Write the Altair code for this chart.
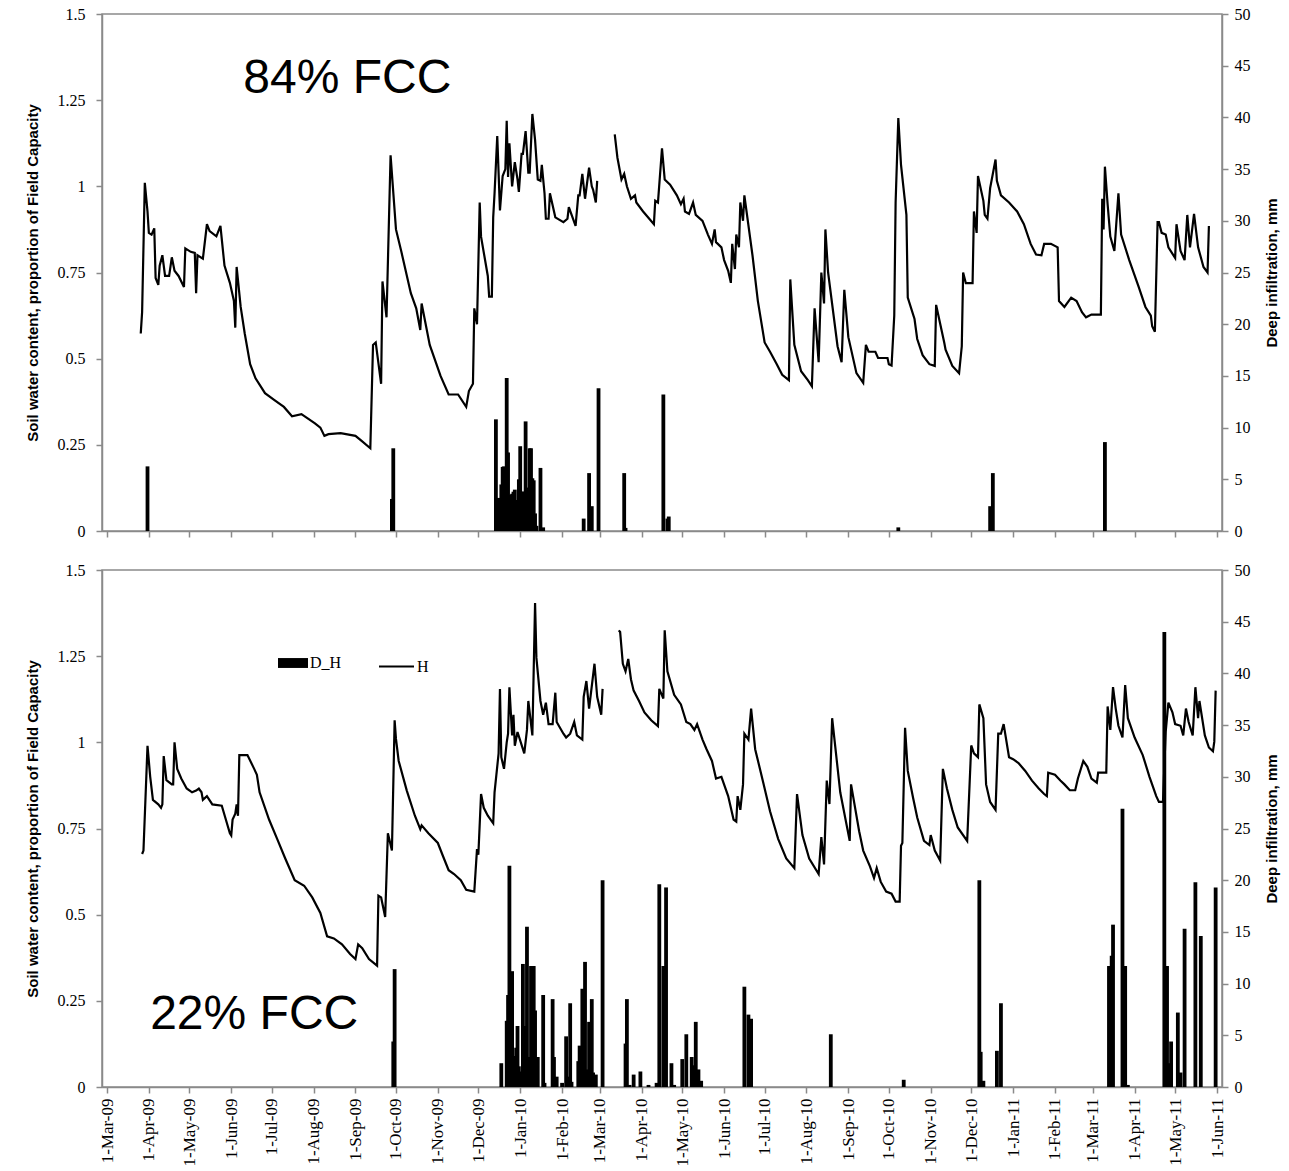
import altair as alt
import pandas as pd

# ---------------- data ----------------
month_ticks = ["2009-03-01", "2009-04-01", "2009-05-01", "2009-06-01", "2009-07-01", "2009-08-01",
               "2009-09-01", "2009-10-01", "2009-11-01", "2009-12-01", "2010-01-01", "2010-02-01",
               "2010-03-01", "2010-04-01", "2010-05-01", "2010-06-01", "2010-07-01", "2010-08-01",
               "2010-09-01", "2010-10-01", "2010-11-01", "2010-12-01", "2011-01-01", "2011-02-01",
               "2011-03-01", "2011-04-01", "2011-05-01", "2011-06-01"]
left_ticks = [0, 0.25, 0.5, 0.75, 1, 1.25, 1.5]
right_ticks = [0, 5, 10, 15, 20, 25, 30, 35, 40, 45, 50]

# ---- top panel (84% FCC): soil water content H, segment before the March-2010 gap
top_h_a = [
    ("2009-03-26", 0.573), ("2009-03-27", 0.635), ("2009-03-29", 1.01), ("2009-03-31", 0.927),
    ("2009-04-01", 0.865), ("2009-04-03", 0.86), ("2009-04-05", 0.878), ("2009-04-06", 0.734),
    ("2009-04-08", 0.714), ("2009-04-09", 0.77), ("2009-04-11", 0.80), ("2009-04-13", 0.74),
    ("2009-04-16", 0.74), ("2009-04-18", 0.794), ("2009-04-20", 0.755), ("2009-04-23", 0.74),
    ("2009-04-27", 0.708), ("2009-04-28", 0.82), ("2009-05-02", 0.81), ("2009-05-05", 0.807),
    ("2009-05-06", 0.69), ("2009-05-07", 0.80), ("2009-05-11", 0.79), ("2009-05-14", 0.89),
    ("2009-05-16", 0.87), ("2009-05-21", 0.855), ("2009-05-24", 0.885), ("2009-05-27", 0.77),
    ("2009-05-31", 0.72), ("2009-06-03", 0.667), ("2009-06-04", 0.59), ("2009-06-05", 0.766),
    ("2009-06-08", 0.65), ("2009-06-11", 0.573), ("2009-06-15", 0.484), ("2009-06-19", 0.443),
    ("2009-06-26", 0.40), ("2009-07-03", 0.38), ("2009-07-10", 0.36), ("2009-07-16", 0.333),
    ("2009-07-23", 0.339), ("2009-08-02", 0.3125), ("2009-08-06", 0.30), ("2009-08-09", 0.276),
    ("2009-08-12", 0.281), ("2009-08-21", 0.284), ("2009-09-01", 0.276), ("2009-09-06", 0.26),
    ("2009-09-12", 0.24), ("2009-09-14", 0.54), ("2009-09-16", 0.547), ("2009-09-20", 0.427),
    ("2009-09-21", 0.724), ("2009-09-24", 0.62), ("2009-09-27", 1.09), ("2009-10-01", 0.875),
    ("2009-10-05", 0.81), ("2009-10-12", 0.69), ("2009-10-16", 0.646), ("2009-10-19", 0.583),
    ("2009-10-20", 0.66), ("2009-10-26", 0.54), ("2009-11-03", 0.45), ("2009-11-09", 0.396),
    ("2009-11-16", 0.396), ("2009-11-22", 0.36), ("2009-11-24", 0.406), ("2009-11-27", 0.427),
    ("2009-11-28", 0.646), ("2009-11-30", 0.60), ("2009-12-02", 0.953), ("2009-12-03", 0.854),
    ("2009-12-08", 0.74), ("2009-12-09", 0.68), ("2009-12-11", 0.68), ("2009-12-12", 0.91),
    ("2009-12-13", 0.98), ("2009-12-15", 1.146), ("2009-12-17", 0.93), ("2009-12-19", 1.03),
    ("2009-12-21", 1.05), ("2009-12-22", 1.19), ("2009-12-23", 1.027), ("2009-12-24", 1.125),
    ("2009-12-26", 1.0), ("2009-12-28", 1.07), ("2009-12-30", 1.02), ("2009-12-31", 0.984),
    ("2010-01-02", 1.094), ("2010-01-03", 1.094), ("2010-01-05", 1.16), ("2010-01-07", 1.04),
    ("2010-01-08", 1.04), ("2010-01-10", 1.21), ("2010-01-12", 1.135), ("2010-01-14", 1.02),
    ("2010-01-16", 1.016), ("2010-01-17", 1.0625), ("2010-01-19", 0.98), ("2010-01-20", 0.906),
    ("2010-01-22", 0.906), ("2010-01-23", 0.98), ("2010-01-27", 0.91), ("2010-02-02", 0.896),
    ("2010-02-05", 0.906), ("2010-02-06", 0.94), ("2010-02-11", 0.885), ("2010-02-13", 0.974),
    ("2010-02-14", 0.974), ("2010-02-16", 1.036), ("2010-02-18", 0.964), ("2010-02-21", 1.054),
    ("2010-02-23", 1.0), ("2010-02-24", 0.99), ("2010-02-26", 0.953), ("2010-02-27", 1.016),
]
# ---- top panel: segment after the gap
top_h_b = [
    ("2010-03-12", 1.151), ("2010-03-14", 1.083), ("2010-03-17", 1.02), ("2010-03-19", 1.036),
    ("2010-03-21", 1.0), ("2010-03-24", 0.964), ("2010-03-27", 0.974), ("2010-03-28", 0.953),
    ("2010-04-02", 0.927), ("2010-04-10", 0.89), ("2010-04-11", 0.958), ("2010-04-13", 0.953),
    ("2010-04-16", 1.11), ("2010-04-18", 1.02), ("2010-04-22", 1.005), ("2010-04-27", 0.974),
    ("2010-04-30", 0.948), ("2010-05-02", 0.964), ("2010-05-03", 0.927), ("2010-05-06", 0.92),
    ("2010-05-09", 0.953), ("2010-05-11", 0.917), ("2010-05-16", 0.90), ("2010-05-20", 0.86),
    ("2010-05-23", 0.833), ("2010-05-25", 0.875), ("2010-05-26", 0.838), ("2010-05-30", 0.823),
    ("2010-06-01", 0.786), ("2010-06-04", 0.755), ("2010-06-06", 0.72), ("2010-06-07", 0.833),
    ("2010-06-09", 0.76), ("2010-06-10", 0.86), ("2010-06-12", 0.823), ("2010-06-13", 0.953),
    ("2010-06-15", 0.90), ("2010-06-16", 0.974), ("2010-06-22", 0.80), ("2010-06-26", 0.667),
    ("2010-07-01", 0.547), ("2010-07-05", 0.52), ("2010-07-10", 0.484), ("2010-07-14", 0.453),
    ("2010-07-19", 0.4375), ("2010-07-20", 0.73), ("2010-07-23", 0.54), ("2010-07-28", 0.4635),
    ("2010-08-02", 0.4375), ("2010-08-05", 0.42), ("2010-08-07", 0.646), ("2010-08-10", 0.49),
    ("2010-08-12", 0.75), ("2010-08-14", 0.66), ("2010-08-15", 0.875), ("2010-08-17", 0.75),
    ("2010-08-24", 0.536), ("2010-08-27", 0.49), ("2010-08-29", 0.70), ("2010-09-01", 0.5625),
    ("2010-09-07", 0.458), ("2010-09-12", 0.43), ("2010-09-14", 0.54), ("2010-09-16", 0.52),
    ("2010-09-21", 0.52), ("2010-09-23", 0.502), ("2010-09-30", 0.502), ("2010-10-01", 0.484),
    ("2010-10-03", 0.48), ("2010-10-05", 0.625), ("2010-10-06", 0.953), ("2010-10-08", 1.198),
    ("2010-10-10", 1.0625), ("2010-10-14", 0.917), ("2010-10-15", 0.677), ("2010-10-20", 0.615),
    ("2010-10-22", 0.557), ("2010-10-26", 0.51), ("2010-10-31", 0.484), ("2010-11-04", 0.479),
    ("2010-11-05", 0.656), ("2010-11-11", 0.547), ("2010-11-12", 0.526), ("2010-11-17", 0.479),
    ("2010-11-22", 0.458), ("2010-11-24", 0.536), ("2010-11-25", 0.75), ("2010-11-27", 0.719),
    ("2010-12-02", 0.719), ("2010-12-03", 0.927), ("2010-12-05", 0.865), ("2010-12-06", 1.03),
    ("2010-12-10", 0.958), ("2010-12-11", 0.917), ("2010-12-13", 0.906), ("2010-12-15", 0.995),
    ("2010-12-19", 1.078), ("2010-12-20", 1.016), ("2010-12-23", 0.974), ("2010-12-29", 0.953),
    ("2011-01-04", 0.927), ("2011-01-09", 0.89), ("2011-01-14", 0.833), ("2011-01-18", 0.802),
    ("2011-01-22", 0.80), ("2011-01-24", 0.833), ("2011-01-29", 0.833), ("2011-02-03", 0.823),
    ("2011-02-04", 0.667), ("2011-02-08", 0.65), ("2011-02-13", 0.677), ("2011-02-17", 0.667),
    ("2011-02-21", 0.635), ("2011-02-24", 0.62), ("2011-02-28", 0.628), ("2011-03-07", 0.628),
    ("2011-03-08", 0.964), ("2011-03-09", 0.875), ("2011-03-10", 1.057), ("2011-03-12", 0.948),
    ("2011-03-14", 0.854), ("2011-03-17", 0.8125), ("2011-03-20", 0.98), ("2011-03-22", 0.86),
    ("2011-03-28", 0.786), ("2011-04-04", 0.708), ("2011-04-09", 0.65), ("2011-04-13", 0.625),
    ("2011-04-14", 0.594), ("2011-04-16", 0.578), ("2011-04-18", 0.896), ("2011-04-19", 0.896),
    ("2011-04-21", 0.865), ("2011-04-24", 0.86), ("2011-04-26", 0.823), ("2011-05-01", 0.792),
    ("2011-05-02", 0.89), ("2011-05-05", 0.8125), ("2011-05-08", 0.786), ("2011-05-10", 0.917),
    ("2011-05-12", 0.823), ("2011-05-15", 0.92), ("2011-05-18", 0.823), ("2011-05-22", 0.766),
    ("2011-05-25", 0.75), ("2011-05-26", 0.885),
]
# ---- top panel: deep infiltration D_H (mm)
top_dh = [
    ("2009-03-31", 6.25), ("2009-09-28", 3.1), ("2009-09-29", 8.0),
    ("2009-12-14", 10.8), ("2009-12-15", 3.1), ("2009-12-16", 3.2), ("2009-12-17", 3.1),
    ("2009-12-18", 4.5), ("2009-12-19", 6.2), ("2009-12-20", 6.25), ("2009-12-21", 5.0),
    ("2009-12-22", 14.8), ("2009-12-23", 7.6), ("2009-12-24", 3.0), ("2009-12-25", 3.5),
    ("2009-12-26", 3.6), ("2009-12-27", 3.8), ("2009-12-28", 4.0), ("2009-12-29", 2.5),
    ("2009-12-30", 3.0), ("2009-12-31", 5.0), ("2010-01-01", 8.2), ("2010-01-02", 3.8),
    ("2010-01-03", 3.8), ("2010-01-04", 3.8), ("2010-01-05", 10.6), ("2010-01-06", 4.2),
    ("2010-01-07", 3.9), ("2010-01-08", 8.0), ("2010-01-09", 8.0), ("2010-01-10", 5.1),
    ("2010-01-11", 4.9), ("2010-01-12", 1.7), ("2010-01-13", 0.5), ("2010-01-16", 6.1),
    ("2010-01-18", 0.35), ("2010-02-17", 1.2), ("2010-02-21", 5.6), ("2010-02-23", 2.4),
    ("2010-02-28", 13.8), ("2010-03-19", 5.6), ("2010-03-20", 0.3), ("2010-04-17", 13.2),
    ("2010-04-20", 1.2), ("2010-04-21", 1.4), ("2010-10-08", 0.35), ("2010-12-15", 2.4),
    ("2010-12-17", 5.6), ("2011-03-10", 8.6),
]

# ---- bottom panel (22% FCC): soil water content H
bot_h_a = [
    ("2009-03-27", 0.676), ("2009-03-28", 0.686), ("2009-03-31", 0.99), ("2009-04-02", 0.90),
    ("2009-04-04", 0.833), ("2009-04-08", 0.82), ("2009-04-10", 0.81), ("2009-04-11", 0.82),
    ("2009-04-12", 0.96), ("2009-04-14", 0.89), ("2009-04-18", 0.878), ("2009-04-19", 0.878),
    ("2009-04-20", 1.0), ("2009-04-22", 0.923), ("2009-04-25", 0.895), ("2009-04-29", 0.866),
    ("2009-05-03", 0.855), ("2009-05-06", 0.86), ("2009-05-08", 0.866), ("2009-05-10", 0.855),
    ("2009-05-11", 0.833), ("2009-05-14", 0.844), ("2009-05-18", 0.82), ("2009-05-25", 0.816),
    ("2009-05-28", 0.776), ("2009-05-31", 0.736), ("2009-06-01", 0.73), ("2009-06-02", 0.776),
    ("2009-06-04", 0.793), ("2009-06-05", 0.82), ("2009-06-06", 0.787), ("2009-06-07", 0.963),
    ("2009-06-10", 0.963), ("2009-06-13", 0.963), ("2009-06-18", 0.923), ("2009-06-20", 0.906),
    ("2009-06-22", 0.855), ("2009-06-29", 0.776), ("2009-07-05", 0.72), ("2009-07-11", 0.663),
    ("2009-07-18", 0.60), ("2009-07-25", 0.584), ("2009-07-31", 0.55), ("2009-08-06", 0.505),
    ("2009-08-11", 0.437), ("2009-08-16", 0.431), ("2009-08-22", 0.414), ("2009-08-28", 0.386),
    ("2009-09-01", 0.371), ("2009-09-03", 0.414), ("2009-09-06", 0.403), ("2009-09-11", 0.371),
    ("2009-09-17", 0.352), ("2009-09-18", 0.555), ("2009-09-20", 0.55), ("2009-09-23", 0.493),
    ("2009-09-25", 0.736), ("2009-09-28", 0.686), ("2009-09-30", 1.064), ("2009-10-01", 1.01),
    ("2009-10-03", 0.946), ("2009-10-09", 0.86), ("2009-10-15", 0.787), ("2009-10-19", 0.748),
    ("2009-10-20", 0.759), ("2009-10-25", 0.736), ("2009-11-01", 0.708), ("2009-11-05", 0.668),
    ("2009-11-09", 0.629), ("2009-11-13", 0.618), ("2009-11-18", 0.60), ("2009-11-22", 0.572),
    ("2009-11-28", 0.567), ("2009-11-30", 0.69), ("2009-12-01", 0.674), ("2009-12-03", 0.85),
    ("2009-12-05", 0.81), ("2009-12-08", 0.787), ("2009-12-12", 0.765), ("2009-12-13", 0.855),
    ("2009-12-16", 0.968), ("2009-12-17", 1.155), ("2009-12-18", 0.957), ("2009-12-20", 0.923),
    ("2009-12-22", 1.0), ("2009-12-23", 1.025), ("2009-12-24", 1.16), ("2009-12-26", 1.02),
    ("2009-12-27", 1.08), ("2009-12-28", 0.99), ("2009-12-30", 1.03), ("2010-01-04", 0.968),
    ("2010-01-06", 1.036), ("2010-01-07", 1.12), ("2010-01-10", 1.02), ("2010-01-12", 1.404),
    ("2010-01-13", 1.245), ("2010-01-16", 1.12), ("2010-01-18", 1.08), ("2010-01-20", 1.115),
    ("2010-01-22", 1.053), ("2010-01-25", 1.053), ("2010-01-27", 1.144), ("2010-01-28", 1.059),
    ("2010-02-02", 1.025), ("2010-02-04", 1.014), ("2010-02-07", 1.025), ("2010-02-10", 1.059),
    ("2010-02-12", 1.02), ("2010-02-16", 1.008), ("2010-02-17", 1.132), ("2010-02-19", 1.178),
    ("2010-02-21", 1.098), ("2010-02-25", 1.228), ("2010-02-27", 1.132), ("2010-03-02", 1.08),
    ("2010-03-03", 1.155),
]
bot_h_b = [
    ("2010-03-15", 1.325), ("2010-03-16", 1.32), ("2010-03-18", 1.228), ("2010-03-20", 1.206),
    ("2010-03-22", 1.242), ("2010-03-24", 1.183), ("2010-03-26", 1.15), ("2010-03-30", 1.12),
    ("2010-04-03", 1.087), ("2010-04-08", 1.064), ("2010-04-13", 1.047), ("2010-04-14", 1.155),
    ("2010-04-17", 1.127), ("2010-04-18", 1.325), ("2010-04-20", 1.206), ("2010-04-25", 1.138),
    ("2010-04-30", 1.11), ("2010-05-04", 1.059), ("2010-05-07", 1.053), ("2010-05-10", 1.036),
    ("2010-05-12", 1.053), ("2010-05-16", 1.008), ("2010-05-19", 0.98), ("2010-05-23", 0.946),
    ("2010-05-26", 0.895), ("2010-05-30", 0.90), ("2010-06-04", 0.844), ("2010-06-08", 0.776),
    ("2010-06-10", 0.77), ("2010-06-11", 0.844), ("2010-06-13", 0.804), ("2010-06-15", 0.878),
    ("2010-06-16", 1.025), ("2010-06-19", 1.008), ("2010-06-21", 1.098), ("2010-06-24", 0.98),
    ("2010-06-30", 0.883), ("2010-07-05", 0.80), ("2010-07-11", 0.72), ("2010-07-17", 0.663),
    ("2010-07-23", 0.635), ("2010-07-25", 0.85), ("2010-07-29", 0.731), ("2010-08-03", 0.663),
    ("2010-08-10", 0.618), ("2010-08-12", 0.725), ("2010-08-14", 0.646), ("2010-08-16", 0.889),
    ("2010-08-18", 0.821), ("2010-08-20", 1.07), ("2010-08-26", 0.855), ("2010-09-02", 0.714),
    ("2010-09-03", 0.878), ("2010-09-09", 0.742), ("2010-09-12", 0.686), ("2010-09-17", 0.64),
    ("2010-09-20", 0.606), ("2010-09-22", 0.635), ("2010-09-25", 0.595), ("2010-09-29", 0.567),
    ("2010-10-03", 0.561), ("2010-10-06", 0.538), ("2010-10-09", 0.538), ("2010-10-10", 0.70),
    ("2010-10-11", 0.708), ("2010-10-13", 1.042), ("2010-10-15", 0.917), ("2010-10-19", 0.838),
    ("2010-10-22", 0.782), ("2010-10-27", 0.714), ("2010-10-31", 0.702), ("2010-11-01", 0.731),
    ("2010-11-04", 0.686), ("2010-11-08", 0.657), ("2010-11-10", 0.923), ("2010-11-13", 0.866),
    ("2010-11-17", 0.804), ("2010-11-21", 0.753), ("2010-11-28", 0.714), ("2010-12-01", 0.991),
    ("2010-12-03", 0.968), ("2010-12-06", 0.957), ("2010-12-07", 1.11), ("2010-12-10", 1.07),
    ("2010-12-12", 0.878), ("2010-12-15", 0.827), ("2010-12-19", 0.804), ("2010-12-21", 1.025),
    ("2010-12-23", 1.025), ("2010-12-25", 1.053), ("2010-12-29", 0.957), ("2011-01-01", 0.951),
    ("2011-01-05", 0.94), ("2011-01-10", 0.917), ("2011-01-15", 0.889), ("2011-01-20", 0.866),
    ("2011-01-24", 0.85), ("2011-01-26", 0.844), ("2011-01-27", 0.912), ("2011-02-01", 0.906),
    ("2011-02-05", 0.889), ("2011-02-08", 0.878), ("2011-02-12", 0.861), ("2011-02-16", 0.861),
    ("2011-02-18", 0.895), ("2011-02-22", 0.946), ("2011-02-25", 0.929), ("2011-02-28", 0.895),
    ("2011-03-04", 0.883), ("2011-03-05", 0.912), ("2011-03-11", 0.912), ("2011-03-12", 1.104),
    ("2011-03-14", 1.036), ("2011-03-16", 1.16), ("2011-03-18", 1.098), ("2011-03-20", 1.048),
    ("2011-03-23", 1.014), ("2011-03-25", 1.166), ("2011-03-27", 1.07), ("2011-04-01", 1.014),
    ("2011-04-07", 0.963), ("2011-04-12", 0.90), ("2011-04-17", 0.844), ("2011-04-19", 0.827),
    ("2011-04-22", 0.827), ("2011-04-24", 1.03), ("2011-04-26", 1.115), ("2011-04-29", 1.087),
    ("2011-05-01", 1.053), ("2011-05-05", 1.048), ("2011-05-07", 1.02), ("2011-05-09", 1.098),
    ("2011-05-11", 1.059), ("2011-05-14", 1.02), ("2011-05-16", 1.16), ("2011-05-18", 1.07),
    ("2011-05-19", 1.12), ("2011-05-23", 1.02), ("2011-05-26", 0.985), ("2011-05-29", 0.974),
    ("2011-05-30", 1.002), ("2011-05-31", 1.15),
]
bot_dh = [
    ("2009-09-29", 4.4), ("2009-09-30", 11.4),
    ("2009-12-18", 2.3), ("2009-12-22", 6.4), ("2009-12-23", 8.9), ("2009-12-24", 21.4),
    ("2009-12-25", 9.0), ("2009-12-26", 11.2), ("2009-12-27", 3.0), ("2009-12-29", 3.8),
    ("2009-12-30", 5.9), ("2009-12-31", 2.0), ("2010-01-01", 1.5), ("2010-01-03", 11.9),
    ("2010-01-04", 5.9), ("2010-01-06", 15.5), ("2010-01-08", 2.9), ("2010-01-09", 11.7),
    ("2010-01-10", 11.5), ("2010-01-11", 11.7), ("2010-01-12", 7.4), ("2010-01-14", 2.9),
    ("2010-01-18", 8.9), ("2010-01-19", 0.4), ("2010-01-25", 8.5), ("2010-01-26", 2.9),
    ("2010-01-28", 1.0), ("2010-02-01", 0.4), ("2010-02-04", 4.9), ("2010-02-05", 1.0),
    ("2010-02-07", 8.1), ("2010-02-08", 0.5), ("2010-02-13", 2.5), ("2010-02-14", 4.0),
    ("2010-02-16", 9.5), ("2010-02-18", 12.1), ("2010-02-19", 1.7), ("2010-02-21", 6.3),
    ("2010-02-23", 8.5), ("2010-02-24", 1.4), ("2010-02-26", 1.2), ("2010-03-03", 20.0),
    ("2010-03-20", 4.2), ("2010-03-21", 8.5), ("2010-03-23", 0.2), ("2010-03-26", 1.2),
    ("2010-03-31", 1.5), ("2010-04-06", 0.2), ("2010-04-12", 0.4), ("2010-04-14", 19.6),
    ("2010-04-17", 11.7), ("2010-04-19", 19.3), ("2010-04-23", 2.3), ("2010-04-25", 0.2),
    ("2010-05-01", 2.7), ("2010-05-04", 5.1), ("2010-05-08", 2.9), ("2010-05-10", 2.1),
    ("2010-05-11", 6.3), ("2010-05-13", 1.7), ("2010-05-15", 0.6), ("2010-06-16", 9.7),
    ("2010-06-19", 7.0), ("2010-06-21", 6.6), ("2010-08-19", 5.1), ("2010-10-12", 0.7),
    ("2010-12-07", 20.0), ("2010-12-08", 3.4), ("2010-12-10", 0.6), ("2010-12-20", 3.5),
    ("2010-12-23", 8.1), ("2011-03-13", 11.7), ("2011-03-15", 12.7), ("2011-03-16", 15.7),
    ("2011-03-23", 26.9), ("2011-03-25", 11.7), ("2011-03-27", 0.2), ("2011-04-23", 44.0),
    ("2011-04-25", 11.7), ("2011-04-26", 2.3), ("2011-04-28", 4.4), ("2011-05-03", 7.2),
    ("2011-05-05", 1.4), ("2011-05-08", 15.3), ("2011-05-16", 19.8), ("2011-05-20", 14.6),
    ("2011-05-31", 19.3),
]
labels_top = [("2009-08-26", 1.31, "84% FCC")]
labels_bot = [("2009-06-18", 0.21, "22% FCC")]

# ---------------- styling ----------------
GRAY = "#8a8a8a"
SERIF = "Liberation Serif"
SANS = "Liberation Sans"
W, H = 1120, 517

AX = dict(labelFont=SERIF, labelFontSize=16, labelColor="black",
          titleFont=SANS, titleFontSize=15, titleFontWeight="bold", titleColor="black",
          domainColor=GRAY, tickColor=GRAY, domainWidth=1.5, tickWidth=1.5, grid=False, tickSize=6)


def dt(s):
    y, m, d = (int(p) for p in s.split("-"))
    return alt.DateTime(year=y, month=m, date=d, utc=True)


x_scale = alt.Scale(type="utc", domain=[dt(month_ticks[0]), dt(month_ticks[-1])], nice=False)
x_values = [dt(s) for s in month_ticks]


def line_df(a, b, name):
    return pd.DataFrame({
        "date": [p[0] for p in a] + [p[0] for p in b],
        "swc": [p[1] for p in a] + [p[1] for p in b],
        "seg": ["a"] * len(a) + ["b"] * len(b),
        "lser": name,
    })


def bar_df(rows, name):
    return pd.DataFrame({"date": [r[0] for r in rows], "mm": [r[1] for r in rows], "bser": name})


def panel(h_a, h_b, dh, label, show_x_labels, with_legend):
    if show_x_labels:
        x_ax = dict(AX, labelFontSize=17)
        x_axis = alt.Axis(values=x_values, labelExpr="utcFormat(datum.value, '%-d-%b-%y')",
                          labelAngle=270, title=None, labelPadding=5, **x_ax)
    else:
        x_axis = alt.Axis(values=x_values, labels=False, title=None, **AX)
    x_enc = alt.X("date:T", scale=x_scale, axis=x_axis)
    left_axis = alt.Axis(orient="left", values=left_ticks, labelExpr="toString(datum.value)",
                         title="Soil water content, proportion of Field Capacity",
                         titlePadding=17, labelPadding=11, **AX)
    left_scale = alt.Scale(domain=[0, 1.5], nice=False)

    bar_enc = dict(
        x=x_enc,
        y=alt.Y("mm:Q", scale=alt.Scale(domain=[0, 50], nice=False),
                axis=alt.Axis(orient="right", values=right_ticks, title="Deep infiltration,  mm",
                              titleAngle=270, titlePadding=29, labelPadding=6, **AX)),
    )
    line_enc = dict(
        x=x_enc,
        y=alt.Y("swc:Q", scale=left_scale, axis=left_axis),
        detail="seg:N",
    )
    if with_legend:
        bar_enc["color"] = alt.Color(
            "bser:N", scale=alt.Scale(domain=["D_H"], range=["black"]),
            legend=alt.Legend(orient="none", legendX=176, legendY=634, title=None,
                              symbolType="M-1,-0.33H1V0.33H-1Z", symbolSize=900,
                              symbolStrokeWidth=0, labelFont=SERIF, labelFontSize=16,
                              labelColor="black", labelOffset=2, padding=0))
        line_enc["stroke"] = alt.Stroke(
            "lser:N", scale=alt.Scale(domain=["H"], range=["black"]),
            legend=alt.Legend(orient="none", legendX=276, legendY=634, title=None,
                              symbolType="stroke", symbolSize=1225, symbolStrokeWidth=2,
                              symbolStrokeColor="black", labelFont=SERIF, labelFontSize=16,
                              labelColor="black", labelOffset=2, padding=0))

    bars = alt.Chart(bar_df(dh, "D_H")).mark_bar(color="black", size=3.8).encode(**bar_enc)
    line = alt.Chart(line_df(h_a, h_b, "H")).mark_line(color="black", strokeWidth=2.2).encode(**line_enc)
    text = alt.Chart(pd.DataFrame({"date": [label[0][0]], "swc": [label[0][1]], "txt": [label[0][2]]})).mark_text(
        font=SANS, fontSize=48, color="black", align="center", baseline="middle"
    ).encode(
        x=alt.X("date:T", scale=x_scale, axis=x_axis),
        y=alt.Y("swc:Q", scale=left_scale, axis=left_axis),
        text="txt:N",
    )
    left = alt.layer(line, text)
    return alt.layer(bars, left).resolve_scale(y="independent").properties(width=W, height=H)


top = panel(top_h_a, top_h_b, top_dh, labels_top, False, False)
bot = panel(bot_h_a, bot_h_b, bot_dh, labels_bot, True, True)

chart = alt.vconcat(top, bot, spacing=21).properties(
    padding={"left": 24, "top": 5, "right": 5, "bottom": 5},
    background="white",
).configure_view(
    stroke=GRAY, strokeWidth=1.5
)

chart.save("out.html", embed_options={"renderer": "svg", "actions": False})
